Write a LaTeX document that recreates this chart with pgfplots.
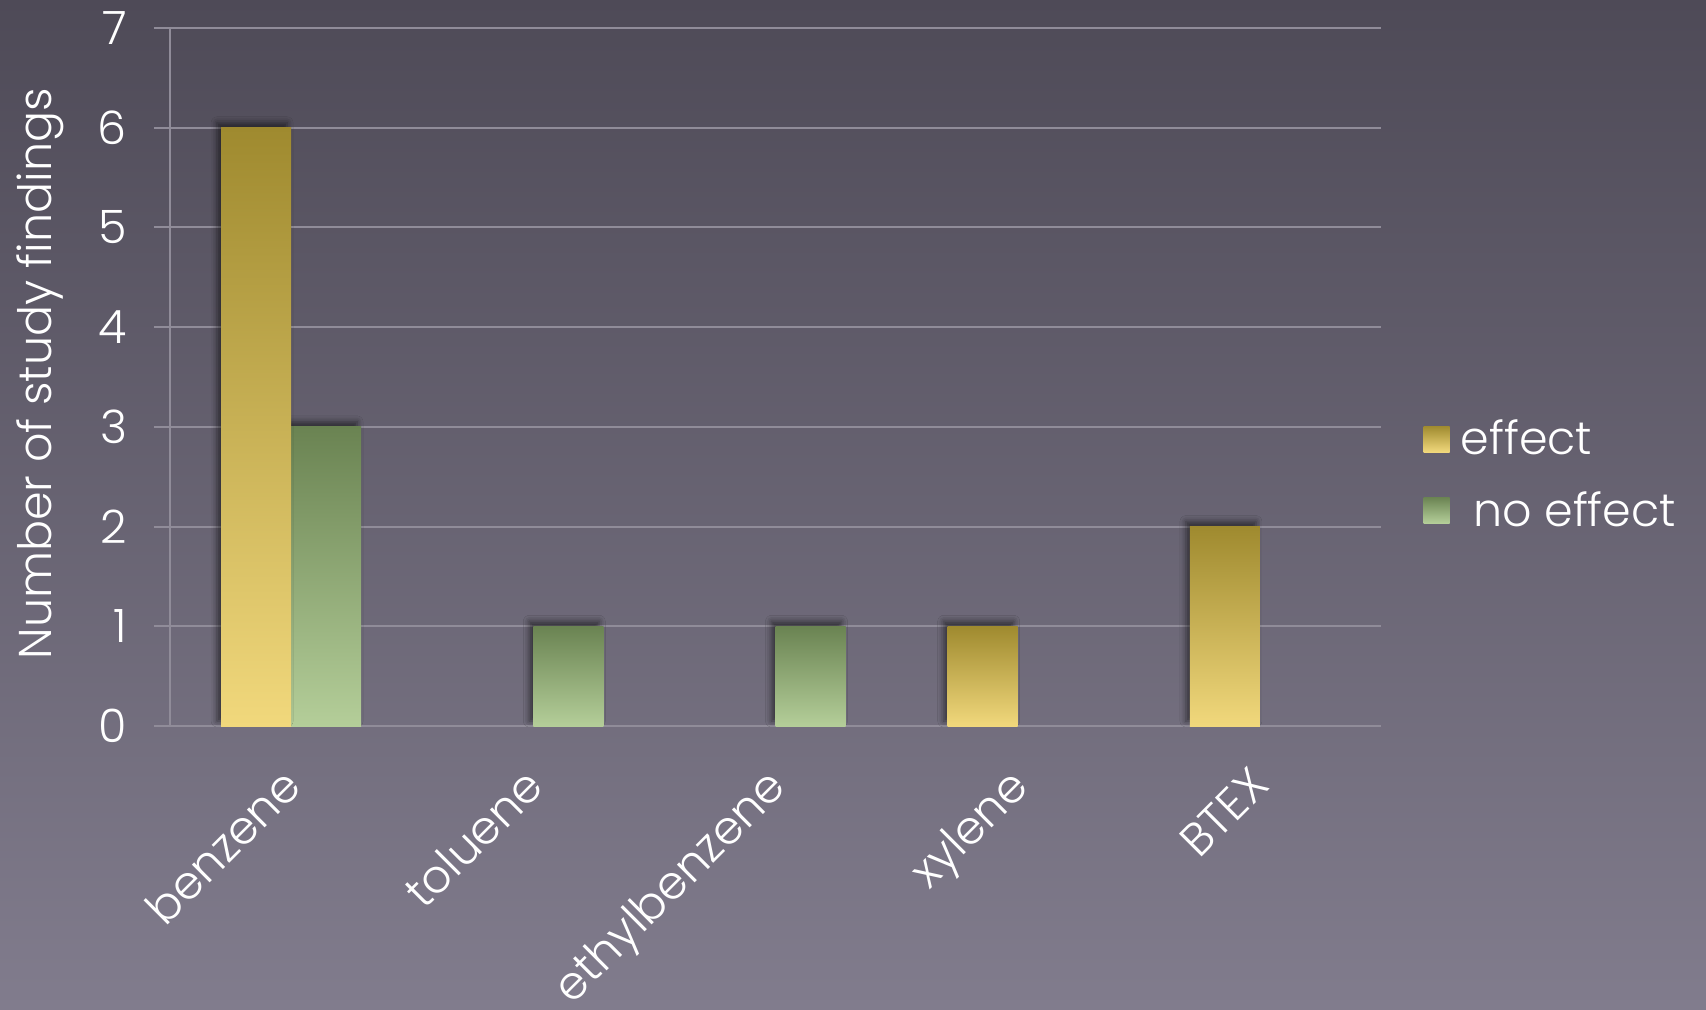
\documentclass[border=0pt]{standalone}
\usepackage{pgfplots}
\pgfplotsset{compat=1.18}
\usepackage{fontspec}
\setmainfont{Poppins}[UprightFont=* Light]
\usetikzlibrary{shadows.blur}
\definecolor{bgtop}{HTML}{4E4A57}
\definecolor{bgbot}{HTML}{817C8D}
\definecolor{gridcol}{HTML}{908C99}
\definecolor{efftop}{HTML}{9F8A2F}
\definecolor{effbot}{HTML}{F1D87C}
\definecolor{notop}{HTML}{6A8352}
\definecolor{nobot}{HTML}{B4CE99}
\pgfplotsset{
  effbar/.style={ybar, bar width=0.289, bar shift=-0.1445, draw=none,
    top color=efftop, bottom color=effbot, forget plot,
    blur shadow={shadow xshift=-2pt, shadow yshift=2.5pt, shadow blur radius=3pt, shadow opacity=55}},
  nobar/.style={ybar, bar width=0.289, bar shift=0.1445, draw=none,
    top color=notop, bottom color=nobot, forget plot,
    blur shadow={shadow xshift=-2pt, shadow yshift=2.5pt, shadow blur radius=3pt, shadow opacity=55}},
}
\begin{document}
\begin{tikzpicture}
\useasboundingbox (0,0) rectangle (853pt,504.5pt);
\clip (0,0) rectangle (853pt,504.5pt);
\shade[top color=bgtop, bottom color=bgbot] (0,0) rectangle (853pt,504.5pt);
\begin{axis}[
  at={(85pt,141.5pt)}, anchor=south west,
  width=605.5pt, height=349pt, scale only axis,
  xmin=-0.5, xmax=4.5, ymin=0, ymax=7,
  axis lines*=left,
  axis line style={gridcol, line width=1pt},
  ymajorgrids, grid style={gridcol, line width=1pt},
  ytick={0,1,...,7},
  major tick length=8pt, tick align=outside,
  ytick style={gridcol, line width=1pt},
  xtick style={draw=none},
  xtick={0,1,2,3,4},
  xticklabels={benzene,toluene,ethylbenzene,xylene,BTEX},
  /pgf/number format/assume math mode=true,
  tick label style={font=\fontsize{23}{27}\selectfont, text=white},
  yticklabel style={xshift=-10pt},
  xticklabel style={xshift=-5.7pt, yshift=-11.3pt, rotate=45, anchor=north east, inner sep=0pt},
  ylabel={Number of study findings},
  ylabel style={at={(axis description cs:-0.107,0.5046)}, anchor=center, font=\fontsize{23}{27}\selectfont, text=white},
  legend style={at={(axis description cs:1,0.3602)}, anchor=west, xshift=18.1pt,
    draw=none, fill=none, font=\fontsize{23}{27}\selectfont, text=white,
    row sep=12.6pt, cells={anchor=west}},
]
% no effect bars
\addplot[nobar] coordinates {(0,3)};
\addplot[nobar] coordinates {(1,1)};
\addplot[nobar] coordinates {(2,1)};
% effect bars
\addplot[effbar] coordinates {(0,6)};
\addplot[effbar] coordinates {(3,1)};
\addplot[effbar] coordinates {(4,2)};
\addlegendimage{legend image code/.code={\path[draw=none, top color=efftop, bottom color=effbot] (-7.2pt,-6.5pt) rectangle (5.8pt,6.5pt); \path (9.1pt,0pt);}}
\addlegendentry{effect}
\addlegendimage{legend image code/.code={\path[draw=none, top color=notop, bottom color=nobot] (-7.2pt,-6.5pt) rectangle (5.8pt,6.5pt); \path (9.1pt,0pt);}}
\addlegendentry{\ no effect}
\end{axis}
\end{tikzpicture}
\end{document}
